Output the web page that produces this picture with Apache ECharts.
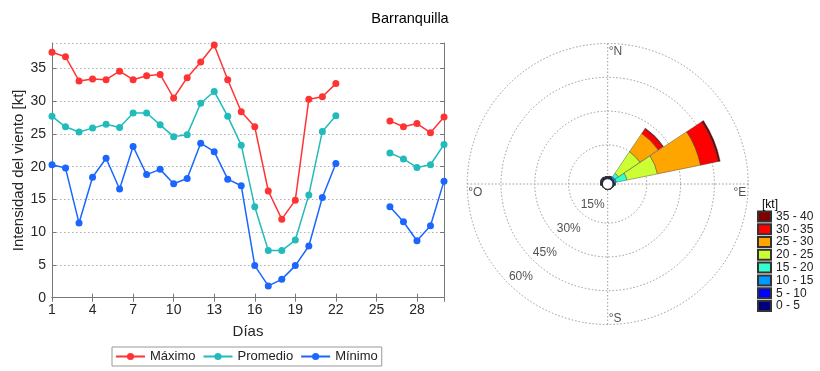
<!DOCTYPE html>
<html>
<head>
<meta charset="utf-8">
<script src="https://cdn.jsdelivr.net/npm/echarts@6/dist/echarts.min.js"></script>
<style>
  html, body { margin: 0; padding: 0; background: #fff; }
  #chart { width: 820px; height: 371px; }
</style>
</head>
<body>
<div id="chart"></div>
<script>
// Daily wind intensity (kt) for Barranquilla; null = no data
const days = [1, 2, 3, 4, 5, 6, 7, 8, 9, 10, 11, 12, 13, 14, 15, 16, 17, 18, 19, 20, 21, 22, 23, 24, 25, 26, 27, 28, 29, 30];
const maximo = [37.5, 36.8, 33.1, 33.4, 33.3, 34.6, 33.3, 33.9, 34.1, 30.5, 33.6, 36.0, 38.6, 33.3, 28.4, 26.1, 16.3, 12.0, 14.9, 30.3, 30.7, 32.7, null, null, null, 27.0, 26.1, 26.6, 25.2, 27.6];
const promedio = [27.7, 26.1, 25.3, 25.9, 26.5, 26.0, 28.2, 28.2, 26.4, 24.6, 24.9, 29.7, 31.5, 27.7, 23.3, 13.9, 7.2, 7.2, 8.8, 15.7, 25.4, 27.8, null, null, null, 22.1, 21.2, 19.9, 20.3, 23.4];
const minimo = [20.3, 19.8, 11.4, 18.4, 21.3, 16.6, 23.1, 18.8, 19.6, 17.4, 18.2, 23.6, 22.3, 18.1, 17.1, 4.9, 1.8, 2.8, 4.9, 7.9, 15.3, 20.5, null, null, null, 13.9, 11.6, 8.7, 11.0, 17.8];
const lineNames = ['Máximo', 'Promedio', 'Mínimo'];

// Wind rose: frequency (%) per direction and speed bin
const directions = ['N', 'NNE', 'NE', 'ENE', 'E', 'ESE', 'SE', 'SSE', 'S', 'SSW', 'SW', 'WSW', 'W', 'WNW', 'NW', 'NNW'];
const speedBins = ['0 - 5', '5 - 10', '10 - 15', '15 - 20', '20 - 25', '25 - 30', '30 - 35', '35 - 40'];
const freq0to5   = [0.6, 0.5, 0.4, 0.3, 0.4, 0.3, 0.1, 0.1, 0.1, 0.1, 0.1, 0.2, 0.5, 0.6, 0.7, 0.6];
const freq5to10  = [0.3, 0.4, 0.5, 0.5, 0.3, 0, 0, 0, 0, 0, 0, 0, 0.2, 0.3, 0.4, 0.3];
const freq10to15 = [0, 0.2, 0.6, 0.8, 0.2, 0, 0, 0, 0, 0, 0, 0, 0, 0, 0, 0];
const freq15to20 = [0, 0, 1.9, 4.8, 0, 0, 0, 0, 0, 0, 0, 0, 0, 0, 0, 0];
const freq20to25 = [0, 0, 11.5, 13.8, 0, 0, 0, 0, 0, 0, 0, 0, 0, 0, 0, 0];
const freq25to30 = [0, 0, 9.8, 19.5, 0, 0, 0, 0, 0, 0, 0, 0, 0, 0, 0, 0];
const freq30to35 = [0, 0, 2.5, 8.0, 0, 0, 0, 0, 0, 0, 0, 0, 0, 0, 0, 0];
const freq35to40 = [0, 0, 0.3, 0.9, 0, 0, 0, 0, 0, 0, 0, 0, 0, 0, 0, 0];
const ringLevels = [15, 30, 45, 60];
const compassNames = ['°N', '°E', '°S', '°O'];
const compassBearings = [0, 90, 180, 270];

const font = 'Liberation Sans, Arial, Helvetica, sans-serif';
const lineColors = ['#ff3333', '#22bbbb', '#1a66ff'];
const binColors = ['#00007f', '#0000ff', '#0099ff', '#33ffcc', '#ccff33', '#ffa500', '#ff0000', '#7f0000'];
const binData = [freq0to5, freq5to10, freq10to15, freq15to20, freq20to25, freq25to30, freq30to35, freq35to40];

const roseCenter = [607.7, 184];
const roseRadius = [5.3, 140.5];

function pairs(vals) {
  return days.map((d, i) => [d, vals[i] == null ? '-' : vals[i]]);
}

const lineSeries = [maximo, promedio, minimo].map((vals, i) => ({
  name: lineNames[i],
  type: 'line',
  xAxisIndex: 0,
  yAxisIndex: 0,
  data: pairs(vals),
  connectNulls: false,
  symbol: 'circle',
  symbolSize: 7,
  color: lineColors[i],
  lineStyle: { width: 1.5, color: lineColors[i] },
  itemStyle: { color: lineColors[i] },
  z: 3
}));

const roseSeries = speedBins.map((bin, i) => ({
  name: bin,
  type: 'bar',
  coordinateSystem: 'polar',
  polarIndex: 0,
  stack: 'rose',
  data: binData[i],
  barCategoryGap: '2%',
  color: binColors[i],
  itemStyle: { color: binColors[i], borderColor: '#333', borderWidth: 0.4 },
  z: 4
}));

const ringLabelSeries = {
  type: 'scatter',
  coordinateSystem: 'polar',
  polarIndex: 1,
  symbolSize: 1,
  itemStyle: { color: 'rgba(0,0,0,0)' },
  silent: true,
  data: ringLevels.map(v => [v, 225]),
  label: {
    show: true,
    position: 'inside',
    offset: [12.6, -6.7],
    formatter: p => p.value[0] + '%',
    fontFamily: font,
    fontSize: 12,
    color: '#262626'
  },
  z: 5
};

const compassAlign = [
  { align: 'left', verticalAlign: 'top', offset: [1, 2] },
  { align: 'right', verticalAlign: 'top', offset: [-2, 3] },
  { align: 'left', verticalAlign: 'bottom', offset: [1, 0] },
  { align: 'left', verticalAlign: 'top', offset: [1, 3] }
];
const compassSeries = {
  type: 'scatter',
  coordinateSystem: 'polar',
  polarIndex: 1,
  symbolSize: 1,
  itemStyle: { color: 'rgba(0,0,0,0)' },
  silent: true,
  data: compassNames.map((name, i) => ({
    value: [60, compassBearings[i]],
    name: name,
    label: Object.assign({}, compassAlign[i])
  })),
  label: {
    show: true,
    position: 'inside',
    formatter: p => p.name,
    fontFamily: font,
    fontSize: 12,
    color: '#262626'
  },
  z: 5
};

const axisGray = '#777';
const tickText = '#262626';
const gridDots = { type: [1.5, 2.5], color: '#b0b0b0', width: 1 };

const option = {
  animation: false,
  backgroundColor: '#fff',
  textStyle: { fontFamily: font },
  title: [
    {
      text: 'Barranquilla',
      left: 'center',
      top: 6,
      textStyle: { fontFamily: font, fontSize: 14.5, fontWeight: 'normal', color: '#000' }
    },
    {
      text: '[kt]',
      left: 757,
      top: 194,
      textStyle: { fontFamily: font, fontSize: 12, fontWeight: 'normal', color: '#000' }
    }
  ],
  legend: [
    {
      data: lineNames,
      left: 112,
      top: 347,
      orient: 'horizontal',
      itemWidth: 29,
      itemHeight: 9,
      itemGap: 7,
      padding: [3, 4, 3, 3],
      borderColor: '#999',
      borderWidth: 1,
      textStyle: { fontFamily: font, fontSize: 13, color: '#222' },
      selectedMode: false
    },
    {
      data: speedBins.slice().reverse(),
      left: 757,
      top: 210,
      orient: 'vertical',
      icon: 'rect',
      itemWidth: 13,
      itemHeight: 10,
      itemGap: 0,
      padding: 0,
      textStyle: { fontFamily: font, fontSize: 12, color: '#222', lineHeight: 12.8 },
      selectedMode: false
    }
  ],
  grid: { left: 52, right: 376, top: 43, bottom: 73.3, containLabel: false },
  xAxis: [
    {
      type: 'value',
      min: 1,
      max: 30,
      interval: 3,
      name: 'Días',
      nameLocation: 'middle',
      nameGap: 27,
      nameTextStyle: { fontFamily: font, fontSize: 15, color: tickText },
      axisLine: { show: true, lineStyle: { color: axisGray, width: 1 } },
      axisTick: { show: true, inside: true, length: 4, lineStyle: { color: axisGray } },
      axisLabel: { fontFamily: font, fontSize: 14, color: tickText, margin: 5, showMaxLabel: false },
      splitLine: { show: false }
    },
    {
      type: 'value',
      position: 'top',
      min: 1,
      max: 30,
      interval: 3,
      axisLine: { show: true, lineStyle: { color: axisGray, width: 1 } },
      axisTick: { show: true, inside: true, length: 4, lineStyle: { color: axisGray } },
      axisLabel: { show: false },
      splitLine: { show: false }
    }
  ],
  yAxis: [
    {
      type: 'value',
      min: 0,
      max: 38.9,
      interval: 5,
      name: 'Intensidad del viento [kt]',
      nameLocation: 'middle',
      nameGap: 25,
      nameTextStyle: { fontFamily: font, fontSize: 15, color: tickText },
      axisLine: { show: true, lineStyle: { color: axisGray, width: 1 } },
      axisTick: { show: true, inside: true, length: 4, lineStyle: { color: axisGray } },
      axisLabel: { fontFamily: font, fontSize: 14, color: tickText, margin: 6, showMaxLabel: false },
      splitLine: { show: true, lineStyle: gridDots }
    },
    {
      type: 'value',
      position: 'right',
      min: 0,
      max: 38.9,
      interval: 5,
      axisLine: { show: true, lineStyle: { color: axisGray, width: 1 } },
      axisTick: { show: true, inside: true, length: 4, lineStyle: { color: axisGray } },
      axisLabel: { show: false },
      splitLine: { show: false }
    }
  ],
  polar: [
    { center: roseCenter, radius: roseRadius },
    { center: roseCenter, radius: roseRadius }
  ],
  angleAxis: [
    {
      polarIndex: 0,
      type: 'category',
      data: directions,
      startAngle: 90 + 360 / directions.length / 2,
      clockwise: true,
      boundaryGap: true,
      axisLine: { show: false },
      axisTick: { show: false },
      axisLabel: { show: false },
      splitLine: { show: false },
      z: 1
    },
    {
      polarIndex: 1,
      type: 'value',
      min: 0,
      max: 360,
      interval: 90,
      startAngle: 90,
      clockwise: true,
      axisLine: { show: false },
      axisTick: { show: false },
      axisLabel: { show: false },
      splitLine: { show: true, lineStyle: { type: [1.5, 2], color: '#999', width: 1 } },
      z: 1
    }
  ],
  radiusAxis: [
    {
      polarIndex: 0,
      min: 0,
      max: 60,
      axisLine: { show: false },
      axisTick: { show: false },
      axisLabel: { show: false },
      splitLine: { show: false }
    },
    {
      polarIndex: 1,
      min: 0,
      max: 60,
      interval: 15,
      axisLine: { show: false },
      axisTick: { show: false },
      axisLabel: { show: false },
      splitLine: { show: true, lineStyle: { type: [1.5, 2], color: '#999', width: 1 } },
      z: 1
    }
  ],
  graphic: [
    {
      type: 'circle',
      shape: { cx: roseCenter[0], cy: roseCenter[1], r: roseRadius[0] },
      style: { fill: '#fff', stroke: '#222', lineWidth: 1 },
      z: 10
    }
  ],
  series: lineSeries.concat(roseSeries, [ringLabelSeries, compassSeries])
};

const chart = echarts.init(document.getElementById('chart'), null, { renderer: 'canvas' });
chart.setOption(option);
</script>
</body>
</html>
